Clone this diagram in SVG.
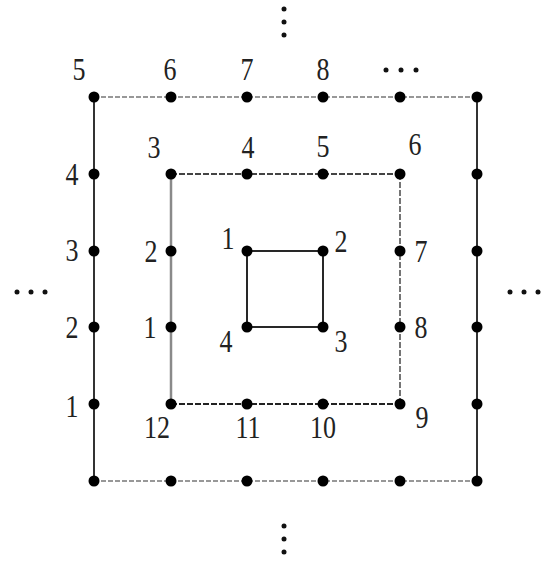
<svg xmlns="http://www.w3.org/2000/svg" width="554" height="563" viewBox="0 0 554 563">
<style>
.lbl{font-family:"Liberation Serif","DejaVu Serif",serif;font-size:26px;fill:#222;text-anchor:middle}
.dot{fill:#000}
.sdot{fill:#111}
.solid{stroke:#333;stroke-width:2;fill:none}
.dash{stroke:#777;stroke-width:1.4;stroke-dasharray:5 2;fill:none}
.mdash{stroke:#444;stroke-width:1.8;stroke-dasharray:6 2;fill:none}
.light{stroke:#8a8a8a;stroke-width:2.5;fill:none}
.inner{stroke:#111;stroke-width:1.8;fill:none}
</style>
<rect width="554" height="563" fill="#fff"/>
<g id="connectors">
<line class="dash" x1="94" y1="97" x2="477" y2="97"/>
<line class="dash" x1="94" y1="481" x2="477" y2="481"/>
<line class="solid" x1="94" y1="97" x2="94" y2="481"/>
<line class="solid" x1="477" y1="97" x2="477" y2="481"/>
<line class="mdash" x1="171" y1="174" x2="400" y2="174"/>
<line class="light" x1="171" y1="174" x2="171" y2="404"/>
<line class="mdash" x1="171" y1="404" x2="400" y2="404" style="stroke:#222"/>
<line class="mdash" x1="400" y1="174" x2="400" y2="404" style="stroke:#666"/>
<rect class="inner" x="247" y="251" width="76" height="76"/>
</g>
<g id="outer">
<circle class="dot" cx="94" cy="97" r="5.5"/><circle class="dot" cx="171" cy="97" r="5.5"/><circle class="dot" cx="247" cy="97" r="5.5"/><circle class="dot" cx="323" cy="97" r="5.5"/><circle class="dot" cx="400" cy="97" r="5.5"/><circle class="dot" cx="477" cy="97" r="5.5"/>
<circle class="dot" cx="94" cy="174" r="5.5"/><circle class="dot" cx="94" cy="251" r="5.5"/><circle class="dot" cx="94" cy="327" r="5.5"/><circle class="dot" cx="94" cy="404" r="5.5"/>
<circle class="dot" cx="477" cy="174" r="5.5"/><circle class="dot" cx="477" cy="251" r="5.5"/><circle class="dot" cx="477" cy="327" r="5.5"/><circle class="dot" cx="477" cy="404" r="5.5"/>
<circle class="dot" cx="94" cy="481" r="5.5"/><circle class="dot" cx="171" cy="481" r="5.5"/><circle class="dot" cx="247" cy="481" r="5.5"/><circle class="dot" cx="323" cy="481" r="5.5"/><circle class="dot" cx="400" cy="481" r="5.5"/><circle class="dot" cx="477" cy="481" r="5.5"/>
<text class="lbl" transform="translate(79,80) scale(1,1.2)">5</text>
<text class="lbl" transform="translate(170,80) scale(1,1.2)">6</text>
<text class="lbl" transform="translate(247,80) scale(1,1.2)">7</text>
<text class="lbl" transform="translate(323,80) scale(1,1.2)">8</text>
<text class="lbl" transform="translate(72,185) scale(1,1.2)">4</text>
<text class="lbl" transform="translate(72,261) scale(1,1.2)">3</text>
<text class="lbl" transform="translate(72,338) scale(1,1.2)">2</text>
<text class="lbl" transform="translate(72,417) scale(1,1.2)">1</text>
</g>
<g id="middle">
<circle class="dot" cx="171" cy="174" r="5.5"/><circle class="dot" cx="247" cy="174" r="5.5"/><circle class="dot" cx="323" cy="174" r="5.5"/><circle class="dot" cx="400" cy="174" r="5.5"/>
<circle class="dot" cx="171" cy="251" r="5.5"/><circle class="dot" cx="171" cy="327" r="5.5"/>
<circle class="dot" cx="400" cy="251" r="5.5"/><circle class="dot" cx="400" cy="327" r="5.5"/>
<circle class="dot" cx="171" cy="404" r="5.5"/><circle class="dot" cx="247" cy="404" r="5.5"/><circle class="dot" cx="323" cy="404" r="5.5"/><circle class="dot" cx="400" cy="404" r="5.5"/>
<text class="lbl" transform="translate(154,158) scale(1,1.2)">3</text>
<text class="lbl" transform="translate(248,158) scale(1,1.2)">4</text>
<text class="lbl" transform="translate(323,157) scale(1,1.2)">5</text>
<text class="lbl" transform="translate(415,155) scale(1,1.2)">6</text>
<text class="lbl" transform="translate(151,262) scale(1,1.2)">2</text>
<text class="lbl" transform="translate(150,338) scale(1,1.2)">1</text>
<text class="lbl" transform="translate(421,262) scale(1,1.2)">7</text>
<text class="lbl" transform="translate(421,338) scale(1,1.2)">8</text>
<text class="lbl" transform="translate(422,428) scale(1,1.2)">9</text>
<text class="lbl" transform="translate(157,438) scale(1,1.2)">12</text>
<text class="lbl" transform="translate(248,438) scale(1,1.2)">11</text>
<text class="lbl" transform="translate(323,438) scale(1,1.2)">10</text>
</g>
<g id="inner">
<circle class="dot" cx="247" cy="251" r="5.5"/><circle class="dot" cx="323" cy="251" r="5.5"/><circle class="dot" cx="323" cy="327" r="5.5"/><circle class="dot" cx="247" cy="327" r="5.5"/>
<text class="lbl" transform="translate(228,249) scale(1,1.2)">1</text>
<text class="lbl" transform="translate(341,252) scale(1,1.2)">2</text>
<text class="lbl" transform="translate(341,352) scale(1,1.2)">3</text>
<text class="lbl" transform="translate(226,352) scale(1,1.2)">4</text>
</g>
<g id="ellipses">
<circle class="sdot" cx="284" cy="9" r="2.5"/><circle class="sdot" cx="284" cy="22" r="2.5"/><circle class="sdot" cx="284" cy="35" r="2.5"/>
<circle class="sdot" cx="284" cy="526" r="2.5"/><circle class="sdot" cx="284" cy="539" r="2.5"/><circle class="sdot" cx="284" cy="552" r="2.5"/>
<circle class="sdot" cx="386" cy="70" r="2.5"/><circle class="sdot" cx="401" cy="70" r="2.5"/><circle class="sdot" cx="416" cy="70" r="2.5"/>
<circle class="sdot" cx="17" cy="292" r="2.5"/><circle class="sdot" cx="31" cy="292" r="2.5"/><circle class="sdot" cx="45" cy="292" r="2.5"/>
<circle class="sdot" cx="510" cy="292" r="2.5"/><circle class="sdot" cx="524" cy="292" r="2.5"/><circle class="sdot" cx="538" cy="292" r="2.5"/>
</g>
</svg>
